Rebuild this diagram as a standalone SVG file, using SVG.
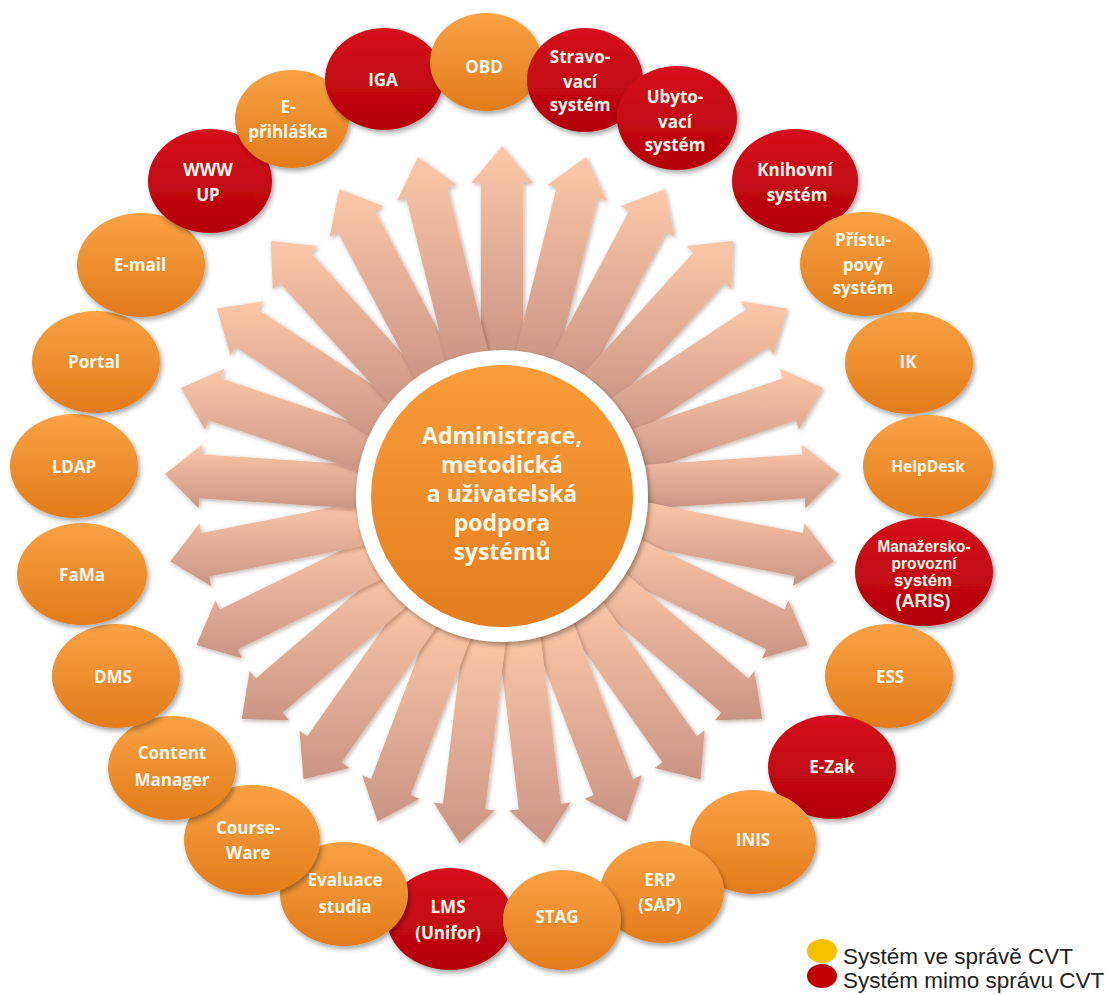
<svg xmlns="http://www.w3.org/2000/svg" width="1107" height="994" viewBox="0 0 1107 994">
<defs>
<style>
.t{font-family:"Open Sans","Liberation Sans",sans-serif;font-weight:700;font-size:17px;fill:#fff8ec;text-anchor:middle}
.ct{font-family:"Open Sans","Liberation Sans",sans-serif;font-weight:700;font-size:23px;fill:#fff8ec;text-anchor:middle}
.n{font-family:"Liberation Sans",Arial,sans-serif;font-weight:700;font-size:16px;fill:#fff8ec;text-anchor:middle}
.lg{font-family:"Liberation Sans",Arial,sans-serif;font-size:22.5px;fill:#222}
.o{fill:url(#gO);filter:url(#sh)}
.r{fill:url(#gR);filter:url(#sh)}
.a{fill:url(#gA);filter:url(#ash)}
</style>
<linearGradient id="gO" x1="0" y1="0" x2="0" y2="1"><stop offset="0" stop-color="#f9a244"/><stop offset="1" stop-color="#e27b1b"/></linearGradient>
<linearGradient id="gR" x1="0" y1="0" x2="0" y2="1"><stop offset="0" stop-color="#d5121b"/><stop offset="1" stop-color="#b3000b"/></linearGradient>
<linearGradient id="gA" x1="0" y1="0" x2="0" y2="1"><stop offset="0" stop-color="#fcc8a8"/><stop offset="1" stop-color="#ca9485"/></linearGradient>
<linearGradient id="gC" x1="0" y1="0" x2="0" y2="1"><stop offset="0" stop-color="#f99c3a"/><stop offset="1" stop-color="#e47d1c"/></linearGradient>
<filter id="sh" x="-20%" y="-20%" width="145%" height="145%"><feDropShadow dx="2" dy="3" stdDeviation="2.5" flood-color="#000" flood-opacity="0.35"/></filter>
<filter id="ash" x="-20%" y="-20%" width="140%" height="140%"><feDropShadow dx="1.5" dy="1.5" stdDeviation="2" flood-color="#4a2010" flood-opacity="0.35"/></filter>
</defs>
<rect width="1107" height="994" fill="#fff"/>

<g id="connectors" transform="matrix(0.965 0 0 1 17.57 0)">
<polygon class="a" points="480,358 480,183 470,183 502,146 534,183 524,183 524,358"/>
<polygon class="a" points="515,356.9 558.5,187.4 548.8,184.9 589.1,157 610.8,200.8 601.2,198.3 557.6,367.8"/>
<polygon class="a" points="549.2,364.5 633.5,211.1 624.8,206.3 670.6,189.3 680.8,237.1 672.1,232.3 587.8,385.7"/>
<polygon class="a" points="580.4,380.3 700.2,252.8 692.9,245.9 741.6,240.9 739.6,289.7 732.3,282.9 612.5,410.5"/>
<polygon class="a" points="606.7,403.5 754.5,309.7 749.1,301.3 797.5,308.5 783.4,355.3 778.1,346.9 630.3,440.6"/>
<polygon class="a" points="626.5,432.4 792.9,378.4 789.8,368.8 834.9,387.9 809.6,429.7 806.5,420.2 640.1,474.3"/>
<polygon class="a" points="638.3,465.4 813,454.4 812.4,444.4 851.3,474 816.4,508.3 815.8,498.3 641.1,509.3"/>
<polygon class="a" points="641.7,500.3 813.6,533.1 815.5,523.2 845.8,561.6 803.5,586.1 805.3,576.3 633.4,543.5"/>
<polygon class="a" points="636.2,534.9 794.6,609.4 798.8,600.3 818.7,645 771.6,658.2 775.8,649.2 617.5,574.7"/>
<polygon class="a" points="622.4,567 757.2,678.6 763.6,670.9 771.7,719.1 722.8,720.2 729.2,712.5 594.3,600.9"/>
<polygon class="a" points="600.9,594.7 703.8,736.3 711.9,730.4 707.7,779.2 660.1,768 668.2,762.2 565.3,620.6"/>
<polygon class="a" points="573.3,616.2 637.7,778.9 647,775.3 630.8,821.4 587.5,798.8 596.8,795.1 532.3,632.4"/>
<polygon class="a" points="541.1,630.2 563.1,803.8 573,802.5 545.9,843.2 509.5,810.5 519.4,809.3 497.5,635.7"/>
<polygon class="a" points="462.9,630.2 440.9,803.8 431,802.5 458.1,843.2 494.5,810.5 484.6,809.3 506.5,635.7"/>
<polygon class="a" points="430.7,616.2 366.3,778.9 357,775.3 373.2,821.4 416.5,798.8 407.2,795.1 471.7,632.4"/>
<polygon class="a" points="403.1,594.7 300.2,736.3 292.1,730.4 296.3,779.2 343.9,768 335.8,762.2 438.7,620.6"/>
<polygon class="a" points="381.6,567 246.8,678.6 240.4,670.9 232.3,719.1 281.2,720.2 274.8,712.5 409.7,600.9"/>
<polygon class="a" points="367.8,534.9 209.4,609.4 205.2,600.3 185.3,645 232.4,658.2 228.2,649.2 386.5,574.7"/>
<polygon class="a" points="362.3,500.3 190.4,533.1 188.5,523.2 158.2,561.6 200.5,586.1 198.7,576.3 370.6,543.5"/>
<polygon class="a" points="365.7,465.4 191,454.4 191.6,444.4 152.7,474 187.6,508.3 188.2,498.3 362.9,509.3"/>
<polygon class="a" points="377.5,432.4 211.1,378.4 214.2,368.8 169.1,387.9 194.4,429.7 197.5,420.2 363.9,474.3"/>
<polygon class="a" points="397.3,403.5 249.5,309.7 254.9,301.3 206.5,308.5 220.6,355.3 225.9,346.9 373.7,440.6"/>
<polygon class="a" points="423.6,380.3 303.8,252.8 311.1,245.9 262.4,240.9 264.4,289.7 271.7,282.9 391.5,410.5"/>
<polygon class="a" points="454.8,364.5 370.5,211.1 379.2,206.3 333.4,189.3 323.2,237.1 331.9,232.3 416.2,385.7"/>
<polygon class="a" points="489,356.9 445.5,187.4 455.2,184.9 414.9,157 393.2,200.8 402.8,198.3 446.4,367.8"/>
</g>

<g id="center">
<circle cx="502" cy="496" r="146" fill="#fff" filter="url(#sh)"/>
<circle cx="502" cy="496" r="131" fill="url(#gC)"/>
<text class="ct" x="502" y="444">Administrace,</text>
<text class="ct" x="502" y="473">metodická</text>
<text class="ct" x="502" y="502">a uživatelská</text>
<text class="ct" x="502" y="531">podpora</text>
<text class="ct" x="502" y="560">systémů</text>
</g>

<g id="n-lms"><ellipse class="r" cx="450" cy="919" rx="63" ry="51"/><text class="t" x="448" y="913">LMS</text><text class="t" x="448" y="939">(Unifor)</text></g>
<g id="n-evaluace"><ellipse class="o" cx="344" cy="894" rx="64" ry="52"/><text class="t" x="345" y="886">Evaluace</text><text class="t" x="345" y="913">studia</text></g>
<g id="n-courseware"><ellipse class="o" cx="252" cy="840" rx="68" ry="55"/><text class="t" x="248" y="834">Course-</text><text class="t" x="248" y="859">Ware</text></g>
<g id="n-content"><ellipse class="o" cx="172" cy="768" rx="64" ry="52"/><text class="t" x="172" y="759">Content</text><text class="t" x="172" y="786">Manager</text></g>
<g id="n-dms"><ellipse class="o" cx="116" cy="676" rx="64" ry="52"/><text class="t" x="113" y="683">DMS</text></g>
<g id="n-fama"><ellipse class="o" cx="82" cy="574" rx="65" ry="51"/><text class="t" x="82" y="581">FaMa</text></g>
<g id="n-ldap"><ellipse class="o" cx="74" cy="466" rx="64" ry="52"/><text class="t" x="74" y="473">LDAP</text></g>
<g id="n-portal"><ellipse class="o" cx="96" cy="362" rx="64" ry="51"/><text class="t" x="94" y="368">Portal</text></g>
<g id="n-email"><ellipse class="o" cx="141" cy="265" rx="64" ry="52"/><text class="t" x="140" y="271">E-mail</text></g>
<g id="n-www"><ellipse class="r" cx="210" cy="181" rx="62" ry="52"/><text class="t" x="208" y="176">WWW</text><text class="t" x="208" y="201">UP</text></g>
<g id="n-eprihlaska"><ellipse class="o" cx="292" cy="119" rx="57" ry="49"/><text class="t" x="288" y="113">E-</text><text class="t" x="288" y="138">přihláška</text></g>
<g id="n-iga"><ellipse class="r" cx="384" cy="79" rx="59" ry="51"/><text class="t" x="383" y="86">IGA</text></g>
<g id="n-obd"><ellipse class="o" cx="486" cy="62" rx="56" ry="49"/><text class="t" x="484" y="73">OBD</text></g>
<g id="n-stravo"><ellipse class="r" cx="585" cy="80" rx="58" ry="52"/><text class="t" x="580" y="63">Stravo-</text><text class="t" x="580" y="88">vací</text><text class="t" x="580" y="111">systém</text></g>
<g id="n-ubyto"><ellipse class="r" cx="677" cy="118" rx="60" ry="52"/><text class="t" x="675" y="103">Ubyto-</text><text class="t" x="675" y="128">vací</text><text class="t" x="675" y="151">systém</text></g>
<g id="n-knihovni"><ellipse class="r" cx="795" cy="181" rx="63" ry="52"/><text class="t" x="795" y="176">Knihovní</text><text class="t" x="797" y="201">systém</text></g>
<g id="n-pristup"><ellipse class="o" cx="865" cy="264" rx="65" ry="52"/><text class="t" x="863" y="246">Přístu-</text><text class="t" x="863" y="271">pový</text><text class="t" x="863" y="294">systém</text></g>
<g id="n-ik"><ellipse class="o" cx="909" cy="363" rx="64" ry="51"/><text class="t" x="908" y="368">IK</text></g>
<g id="n-helpdesk"><ellipse class="o" cx="928" cy="466" rx="65" ry="51"/><text class="t" x="928" y="472" style="font-size:15.5px">HelpDesk</text></g>
<g id="n-aris"><ellipse class="r" cx="924" cy="572" rx="69" ry="54"/><text class="n" x="924" y="552" textLength="93" lengthAdjust="spacingAndGlyphs">Manažersko-</text><text class="n" x="924" y="569" textLength="65" lengthAdjust="spacingAndGlyphs">provozní</text><text class="n" x="923" y="586" textLength="58" lengthAdjust="spacingAndGlyphs">systém</text><text class="n" x="923" y="607" style="font-size:18px" textLength="55" lengthAdjust="spacingAndGlyphs">(ARIS)</text></g>
<g id="n-ess"><ellipse class="o" cx="889" cy="676" rx="64" ry="52"/><text class="t" x="890" y="683">ESS</text></g>
<g id="n-ezak"><ellipse class="r" cx="832" cy="767" rx="64" ry="52"/><text class="t" x="832" y="773">E-Zak</text></g>
<g id="n-inis"><ellipse class="o" cx="753" cy="842" rx="63" ry="52"/><text class="t" x="753" y="846">INIS</text></g>
<g id="n-erp"><ellipse class="o" cx="662" cy="892" rx="62" ry="51"/><text class="t" x="660" y="886">ERP</text><text class="t" x="660" y="911">(SAP)</text></g>
<g id="n-stag"><ellipse class="o" cx="562" cy="920" rx="59" ry="50"/><text class="t" x="557" y="923">STAG</text></g>

<g id="legend">
<ellipse cx="822" cy="951" rx="15" ry="12" fill="#f5c000"/>
<ellipse cx="822" cy="976" rx="15" ry="12" fill="#c00000"/>
<text class="lg" x="843" y="964">Systém ve správě CVT</text>
<text class="lg" x="843" y="988">Systém mimo správu CVT</text>
</g>
</svg>
